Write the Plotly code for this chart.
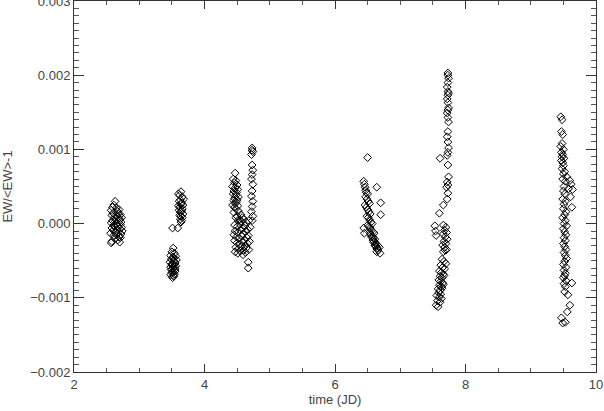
import plotly.graph_objects as go

# Equivalent-width residuals, one list pair per observing night
night1_t = [2.57, 2.59, 2.61, 2.63, 2.65, 2.67, 2.69, 2.71, 2.73, 2.58,
            2.60, 2.62, 2.64, 2.66, 2.68, 2.70, 2.72, 2.57, 2.59, 2.61,
            2.63, 2.65, 2.67, 2.69, 2.71, 2.73, 2.58, 2.60, 2.62, 2.64,
            2.66, 2.68, 2.70, 2.72, 2.56, 2.61, 2.65, 2.69, 2.74, 2.58,
            2.63, 2.67, 2.71, 2.57, 2.70]
night1_ew = [0.00018, 0.00022, 0.00025, 0.00030, 0.00021, 0.00016, 0.00019, 0.00012, 0.00008, 0.00011,
             0.00014, 0.00009, 0.00006, 0.00010, 0.00013, 0.00005, 0.00002, 0.00001, 0.00004, -0.00002,
             0.00003, 0.00000, -0.00003, 0.00007, -0.00001, -0.00005, -0.00006, -0.00009, -0.00004, -0.00011,
             -0.00008, -0.00012, -0.00007, -0.00014, -0.00013, -0.00016, -0.00015, -0.00018, -0.00010, -0.00024,
             -0.00020, -0.00022, -0.00019, -0.00026, -0.00025]

night2_t = [3.60, 3.62, 3.64, 3.66, 3.68, 3.61, 3.63, 3.65, 3.67, 3.60,
            3.62, 3.64, 3.66, 3.61, 3.63, 3.65, 3.67, 3.62, 3.64, 3.66,
            3.63, 3.65, 3.64, 3.51, 3.59,
            3.52, 3.50, 3.54, 3.48, 3.52, 3.56, 3.49, 3.53, 3.57, 3.47,
            3.51, 3.55, 3.50, 3.54, 3.48, 3.52, 3.56, 3.49, 3.53, 3.51,
            3.55, 3.50, 3.54, 3.52, 3.48, 3.53, 3.51, 3.55, 3.50, 3.52]
night2_ew = [0.00040, 0.00038, 0.00043, 0.00036, 0.00033, 0.00030, 0.00032, 0.00028, 0.00025, 0.00024,
             0.00022, 0.00026, 0.00020, 0.00018, 0.00015, 0.00017, 0.00013, 0.00011, 0.00010, 0.00008,
             0.00006, 0.00004, 0.00002, -0.00006, -0.00006,
             -0.00033, -0.00038, -0.00040, -0.00043, -0.00045, -0.00044, -0.00048, -0.00050, -0.00049, -0.00052,
             -0.00054, -0.00053, -0.00056, -0.00058, -0.00059, -0.00060, -0.00057, -0.00062, -0.00063, -0.00065,
             -0.00064, -0.00066, -0.00068, -0.00070, -0.00069, -0.00071, -0.00073, -0.00061, -0.00055, -0.00047]

night3_t = [4.47, 4.44, 4.48, 4.46, 4.50, 4.43, 4.47, 4.51, 4.45, 4.49,
            4.44, 4.48, 4.52, 4.46, 4.50, 4.45, 4.49, 4.47, 4.43, 4.51,
            4.46, 4.48, 4.45, 4.52, 4.56, 4.50, 4.58, 4.54,
            4.48, 4.52, 4.56, 4.60, 4.64, 4.68, 4.46, 4.50, 4.54, 4.58,
            4.62, 4.66, 4.70, 4.47, 4.51, 4.55, 4.59, 4.63, 4.67, 4.45,
            4.49, 4.53, 4.57, 4.61, 4.65, 4.69, 4.46, 4.50, 4.54, 4.58,
            4.62, 4.66, 4.48, 4.52, 4.56, 4.60, 4.64, 4.47, 4.51, 4.55,
            4.59, 4.63, 4.68, 4.67, 4.67,
            4.73, 4.74, 4.72, 4.73, 4.74, 4.73, 4.72, 4.74, 4.73, 4.72,
            4.74, 4.73, 4.72, 4.74, 4.73, 4.73]
night3_ew = [0.00068, 0.00060, 0.00058, 0.00055, 0.00052, 0.00050, 0.00048, 0.00046, 0.00044, 0.00042,
             0.00040, 0.00038, 0.00036, 0.00034, 0.00032, 0.00031, 0.00029, 0.00027, 0.00025, 0.00024,
             0.00022, 0.00020, 0.00015, 0.00017, 0.00012, 0.00010, 0.00008, 0.00005,
             0.00008, 0.00005, 0.00003, 0.00006, 0.00002, 0.00004, -0.00002, -0.00004, -0.00001, -0.00006,
             -0.00003, -0.00008, -0.00005, -0.00010, -0.00012, -0.00009, -0.00014, -0.00011, -0.00016, -0.00015,
             -0.00018, -0.00020, -0.00017, -0.00022, -0.00019, -0.00024, -0.00023, -0.00026, -0.00028, -0.00025,
             -0.00030, -0.00027, -0.00032, -0.00034, -0.00031, -0.00036, -0.00033, -0.00038, -0.00040, -0.00037,
             -0.00042, -0.00039, -0.00035, -0.00052, -0.00060,
             0.00102, 0.00097, 0.00093, 0.00079, 0.00072, 0.00066, 0.00060, 0.00053, 0.00044, 0.00037,
             0.00030, 0.00023, 0.00016, 0.00010, 0.00004, 0.00099]

night4_t = [6.50, 6.44, 6.45, 6.46, 6.47, 6.48, 6.50, 6.47, 6.49, 6.51,
            6.53, 6.46, 6.48, 6.50, 6.52, 6.54, 6.49, 6.51, 6.53, 6.55,
            6.57, 6.50, 6.52, 6.54, 6.56, 6.58, 6.60, 6.53, 6.55, 6.57,
            6.59, 6.61, 6.56, 6.58, 6.60, 6.62, 6.64, 6.59, 6.61, 6.63,
            6.65, 6.62, 6.64, 6.66, 6.68, 6.64, 6.69, 6.64, 6.70, 6.70,
            6.44, 6.45]
night4_ew = [0.00089, 0.00057, 0.00053, 0.00049, 0.00045, 0.00042, 0.00040, 0.00036, 0.00033, 0.00030,
             0.00027, 0.00025, 0.00022, 0.00019, 0.00016, 0.00013, 0.00010, 0.00008, 0.00005, 0.00002,
             0.00000, -0.00002, -0.00004, -0.00006, -0.00009, -0.00011, -0.00013, -0.00012, -0.00015, -0.00017,
             -0.00019, -0.00021, -0.00018, -0.00022, -0.00024, -0.00026, -0.00028, -0.00025, -0.00029, -0.00031,
             -0.00033, -0.00030, -0.00034, -0.00036, -0.00032, -0.00038, -0.00040, 0.00049, 0.00028, 0.00012,
             -0.00006, -0.00013]

night5_t = [7.73, 7.73, 7.74, 7.73, 7.72, 7.73, 7.74, 7.73, 7.72, 7.73,
            7.74, 7.73, 7.72, 7.73, 7.74, 7.73, 7.72, 7.73, 7.74, 7.73,
            7.72, 7.61, 7.73, 7.74, 7.72, 7.73, 7.71, 7.73, 7.72, 7.66,
            7.60, 7.66, 7.70, 7.68, 7.71, 7.66, 7.69, 7.72, 7.67, 7.70,
            7.65, 7.68, 7.71, 7.66, 7.69, 7.64, 7.67, 7.70, 7.62, 7.65,
            7.68, 7.60, 7.63, 7.66, 7.61, 7.64, 7.67, 7.59, 7.62, 7.65,
            7.60, 7.63, 7.66, 7.58, 7.61, 7.64, 7.59, 7.62, 7.60, 7.63,
            7.57, 7.61, 7.55, 7.58, 7.56, 7.53, 7.54, 7.55]
night5_ew = [0.00203, 0.00200, 0.00196, 0.00190, 0.00184, 0.00178, 0.00176, 0.00173, 0.00168, 0.00163,
             0.00156, 0.00153, 0.00149, 0.00143, 0.00137, 0.00124, 0.00117, 0.00110, 0.00102, 0.00096,
             0.00092, 0.00088, 0.00079, 0.00063, 0.00056, 0.00052, 0.00049, 0.00041, 0.00033, 0.00025,
             0.00014, -0.00002, -0.00005, -0.00009, -0.00012, -0.00014, -0.00018, -0.00021, -0.00024, -0.00027,
             -0.00029, -0.00032, -0.00035, -0.00038, -0.00036, -0.00048, -0.00051, -0.00054, -0.00056, -0.00059,
             -0.00061, -0.00064, -0.00066, -0.00068, -0.00071, -0.00073, -0.00070, -0.00076, -0.00078, -0.00080,
             -0.00083, -0.00085, -0.00082, -0.00088, -0.00090, -0.00087, -0.00093, -0.00095, -0.00099, -0.00101,
             -0.00104, -0.00106, -0.00110, -0.00112, -0.00097, -0.00003, -0.00010, -0.00016]

night6_t = [9.46, 9.48, 9.47, 9.49, 9.48, 9.46, 9.50, 9.47, 9.49, 9.48,
            9.51, 9.47, 9.49, 9.50, 9.48, 9.52, 9.50, 9.55, 9.49, 9.53,
            9.60, 9.62, 9.51, 9.58, 9.50, 9.64, 9.52, 9.61, 9.49, 9.53,
            9.51, 9.63, 9.50, 9.54, 9.52, 9.49, 9.53, 9.51, 9.55, 9.50,
            9.52, 9.54, 9.51, 9.53, 9.50, 9.52, 9.54, 9.51, 9.53, 9.55,
            9.52, 9.50, 9.54, 9.51, 9.53, 9.52, 9.50, 9.54, 9.51, 9.53,
            9.63, 9.52, 9.57, 9.60, 9.56, 9.47, 9.53, 9.49]
night6_ew = [0.00144, 0.00140, 0.00124, 0.00120, 0.00108, 0.00104, 0.00100, 0.00096, 0.00093, 0.00090,
             0.00088, 0.00085, 0.00082, 0.00078, 0.00074, 0.00070, 0.00067, 0.00063, 0.00060, 0.00057,
             0.00058, 0.00053, 0.00050, 0.00047, 0.00044, 0.00046, 0.00040, 0.00036, 0.00033, 0.00030,
             0.00026, 0.00022, 0.00020, 0.00016, 0.00012, 0.00008, 0.00004, 0.00000, -0.00003, -0.00007,
             -0.00011, -0.00015, -0.00019, -0.00023, -0.00027, -0.00031, -0.00035, -0.00039, -0.00043, -0.00047,
             -0.00051, -0.00055, -0.00059, -0.00063, -0.00067, -0.00070, -0.00073, -0.00077, -0.00081, -0.00085,
             -0.00080, -0.00092, -0.00096, -0.00110, -0.00119, -0.00127, -0.00133, -0.00134]

x_ticks = [2, 4, 6, 8, 10]
y_ticks = [-0.002, -0.001, 0.0, 0.001, 0.002, 0.003]

nights = [(night1_t, night1_ew), (night2_t, night2_ew), (night3_t, night3_ew),
          (night4_t, night4_ew), (night5_t, night5_ew), (night6_t, night6_ew)]

fig = go.Figure()
for t, ew in nights:
    fig.add_trace(go.Scatter(
        x=t, y=ew, mode='markers',
        marker=dict(symbol='diamond-open', size=6, color='black',
                    line=dict(width=1, color='black')),
        hoverinfo='x+y'))

axis_font = dict(family='Liberation Sans', size=13, color='#444444')

fig.update_layout(
    width=604, height=411,
    margin=dict(l=74, r=8, t=1, b=39),
    paper_bgcolor='white', plot_bgcolor='white',
    showlegend=False,
    font=axis_font,
    xaxis=dict(range=[2, 10], tickvals=x_ticks, ticktext=[str(v) for v in x_ticks],
               ticks='inside', ticklen=8, tickcolor='#333333',
               minor=dict(dtick=0.5, ticklen=4, ticks='inside', tickcolor='#555555'),
               showline=True, linecolor='#333333', linewidth=1, mirror='allticks',
               showgrid=False, zeroline=False, automargin=False,
               ticklabeloverflow='allow',
               title=dict(text='time (JD)', standoff=4, font=axis_font)),
    yaxis=dict(range=[-0.002, 0.003], tickvals=y_ticks, tickformat='.3f',
               ticks='inside', ticklen=10, tickcolor='#333333',
               minor=dict(dtick=0.0001, ticklen=5, ticks='inside', tickcolor='#555555'),
               showline=True, linecolor='#333333', linewidth=1, mirror='allticks',
               showgrid=False, zeroline=False, automargin=False,
               ticklabeloverflow='allow',
               title=dict(text='EW/<EW>-1', standoff=22, font=axis_font)),
)

# the page's default 8px body margin would push the figure off the window
fig.write_html("out.html", config={'displayModeBar': False},
               post_script="document.body.style.margin = '0px';")
